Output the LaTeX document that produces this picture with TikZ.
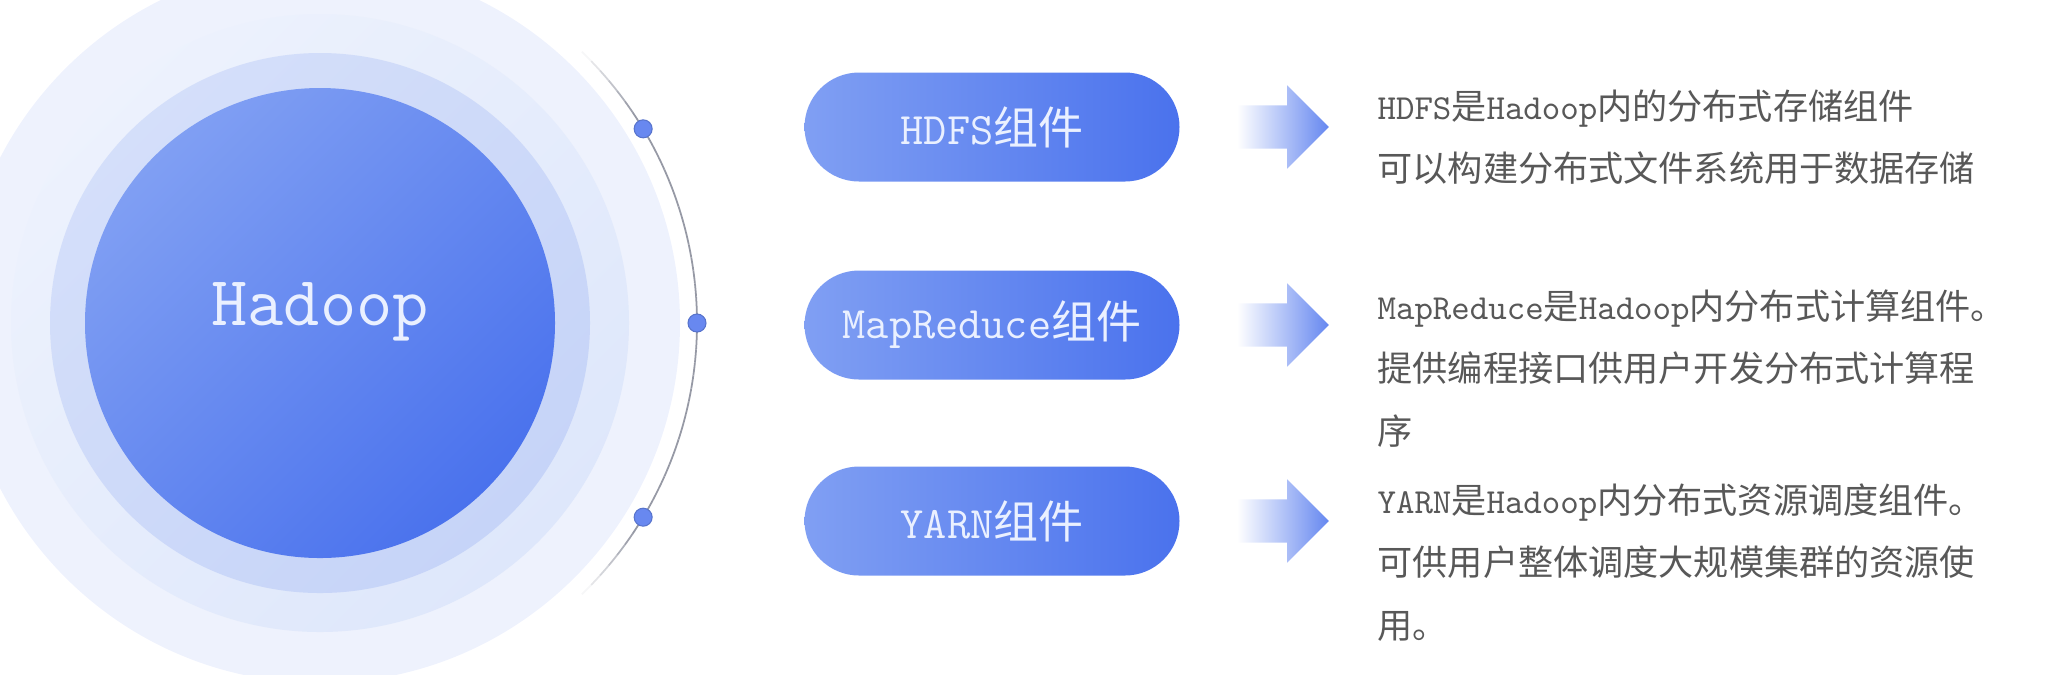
\documentclass[tikz,border=0pt]{standalone}
\usepackage{fontspec}
\usepackage{tikz}
\usetikzlibrary{
	positioning, calc, shapes.arrows
}
\newfontfamily\cjk{Noto Sans CJK SC}
\definecolor{hblue}      {RGB}{ 74, 114, 237}
\definecolor{hbluelight} {RGB}{128, 159, 243}
\definecolor{ringmid}    {RGB}{198, 212, 248}
\definecolor{ringout}    {RGB}{222, 231, 251}
\definecolor{halo}       {RGB}{238, 242, 253}
\definecolor{arcgray}    {RGB}{150, 153, 165}
\definecolor{dotblue}    {RGB}{104, 136, 240}
\definecolor{descgray}   {RGB}{ 88,  88,  88}
\definecolor{labelwhite} {RGB}{234, 240, 255}
\pgfdeclareradialshading{haloshade}{\pgfpoint{0cm}{0cm}}{color(0bp)=(halo); color(34bp)=(halo); color(50bp)=(white)}

\begin{document}
\begin{tikzpicture}[
		pill/.style={rectangle, rounded corners=0.545cm, minimum width=3.75cm, minimum height=1.09cm,
			left color=hbluelight, right color=hblue, text=labelwhite, font=\cjk\fontsize{12.8}{15}\selectfont},
		flow/.style={single arrow, single arrow head extend=0.2cm, minimum height=0.92cm,
			inner xsep=0pt, inner ysep=0.21cm, text height=0pt, text depth=0pt,
			left color=white, right color=hblue!85!white},
		desc/.style={anchor=north west, inner sep=0pt, align=left, text=descgray,
			font=\cjk\fontsize{10}{17.8}\selectfont}
	]
	\useasboundingbox (0,0) rectangle (20.62,6.74);
	\coordinate (C) at (3.20,3.51);
	% halo and rings
	\shade[shading=haloshade] (C) circle (3.6);
	\shade[top color=ringout!55!white, bottom color=ringout, shading angle=45] (C) circle (3.09);
	\shade[top color=ringmid!75!white, bottom color=ringmid, shading angle=45] (C) circle (2.70);
	\shade[top color=hbluelight, bottom color=hblue, shading angle=45] (C) circle (2.35);
	\node[font=\ttfamily\fontsize{20}{24}\selectfont, text=labelwhite, anchor=base] (hadoop) at (3.20,3.49) {Hadoop};
	% arc with faded ends
	\foreach \a in {-46,-44,...,44}{
		\pgfmathsetmacro\op{min(1,(46-abs(\a+1))/12)}
		\draw[arcgray, line width=0.5pt, opacity=\op] ($(C)+(\a:3.77)$) arc[start angle=\a, end angle=\a+2, radius=3.77];
	}
	\foreach \a/\n in {31/top, 0/mid, -31/bot}{
		\node[circle, fill=dotblue, draw=dotblue!85!black, line width=0.3pt, inner sep=0pt, minimum size=0.18cm] (dot\n) at ($(C)+(\a:3.77)$) {};
	}
	% components
	\node[pill] (hdfs)   at (9.92,5.47) {\texttt{HDFS}组件};
	\node[pill] (mapred) at (9.92,3.49) {\texttt{MapReduce}组件};
	\node[pill] (yarn)   at (9.92,1.53) {\texttt{YARN}组件};
	\node[flow, right=0.56cm of hdfs]   (arrhdfs)   {};
	\node[flow, right=0.56cm of mapred] (arrmapred) {};
	\node[flow, right=0.56cm of yarn]   (arryarn)   {};
	\node[desc] (txthdfs) at ($(arrhdfs.east)+(0.47,0.38)$)
		{\texttt{HDFS}是\texttt{Hadoop}内的分布式存储组件\\可以构建分布式文件系统用于数据存储};
	\node[desc] (txtmapred) at ($(arrmapred.east)+(0.47,0.36)$)
		{\texttt{MapReduce}是\texttt{Hadoop}内分布式计算组件。\\提供编程接口供用户开发分布式计算程\\序};
	\node[desc] (txtyarn) at ($(arryarn.east)+(0.47,0.38)$)
		{\texttt{YARN}是\texttt{Hadoop}内分布式资源调度组件。\\可供用户整体调度大规模集群的资源使\\用。};
\end{tikzpicture}
\end{document}
